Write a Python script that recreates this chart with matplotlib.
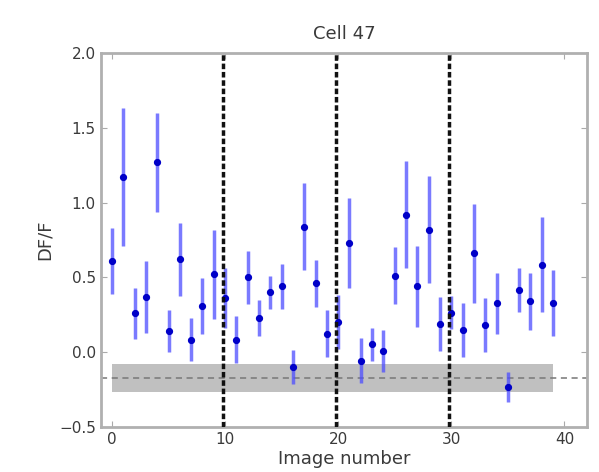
import matplotlib
matplotlib.use("Agg")
import matplotlib.pyplot as plt
import numpy as np

# DF/F per image, with error bars
df_f = [0.61, 1.17, 0.26, 0.37, 1.27, 0.14, 0.62, 0.085, 0.31, 0.52,
        0.36, 0.085, 0.50, 0.23, 0.40, 0.44, -0.10, 0.84, 0.46, 0.125,
        0.20, 0.73, -0.056, 0.055, 0.007, 0.51, 0.92, 0.44, 0.82, 0.19,
        0.265, 0.148, 0.66, 0.18, 0.327, -0.23, 0.416, 0.34, 0.586, 0.33]
df_f_err = [0.22, 0.46, 0.17, 0.24, 0.33, 0.14, 0.245, 0.145, 0.185, 0.30,
            0.20, 0.155, 0.175, 0.12, 0.11, 0.15, 0.115, 0.29, 0.155, 0.155,
            0.18, 0.30, 0.15, 0.11, 0.14, 0.19, 0.36, 0.27, 0.36, 0.18,
            0.11, 0.18, 0.33, 0.18, 0.205, 0.10, 0.15, 0.19, 0.32, 0.22]

# baseline (mean +- std) and block boundaries
baseline_mean = -0.17
baseline_std = 0.095
boundaries = [9.8, 19.8, 29.8]

x = np.arange(len(df_f))
txt = "#3a3a3a"

fig = plt.figure(figsize=(5.99, 4.72), dpi=100)
ax = fig.add_axes([0.168, 0.095, 0.812, 0.793])

ax.fill_between([x[0], x[-1]], baseline_mean - baseline_std, baseline_mean + baseline_std,
                color="#c0c0c0", lw=0)
ax.axhline(baseline_mean, color="#777777", ls="--", lw=1.1, dashes=(4, 3))

ax.errorbar(x, df_f, yerr=df_f_err, fmt="o", color="#0000c8", ms=4.2,
            ecolor=(0.3, 0.3, 1.0, 0.75), elinewidth=2.5, capsize=0, zorder=3)

for b in boundaries:
    ax.axvline(b, color="#111111", ls="--", lw=2.5, dashes=(1.6, 0.8), zorder=4)

ax.set_xlim(-1, 42)
ax.set_ylim(-0.5, 2.0)
ax.set_xticks([0, 10, 20, 30, 40])
ax.set_yticks([-0.5, 0.0, 0.5, 1.0, 1.5, 2.0])
ax.tick_params(direction="in", top=True, right=True, length=4, colors="#aaaaaa",
               labelcolor=txt, labelsize=11)
for s in ax.spines.values():
    s.set_color("#b0b0b0")
    s.set_linewidth(2)

ax.set_xlabel("Image number", fontsize=13, color=txt, labelpad=2)
ax.set_ylabel("DF/F", fontsize=13, color=txt)
ax.set_title("Cell 47", fontsize=13, color=txt, pad=10)

fig.savefig("out.png", dpi=100)
